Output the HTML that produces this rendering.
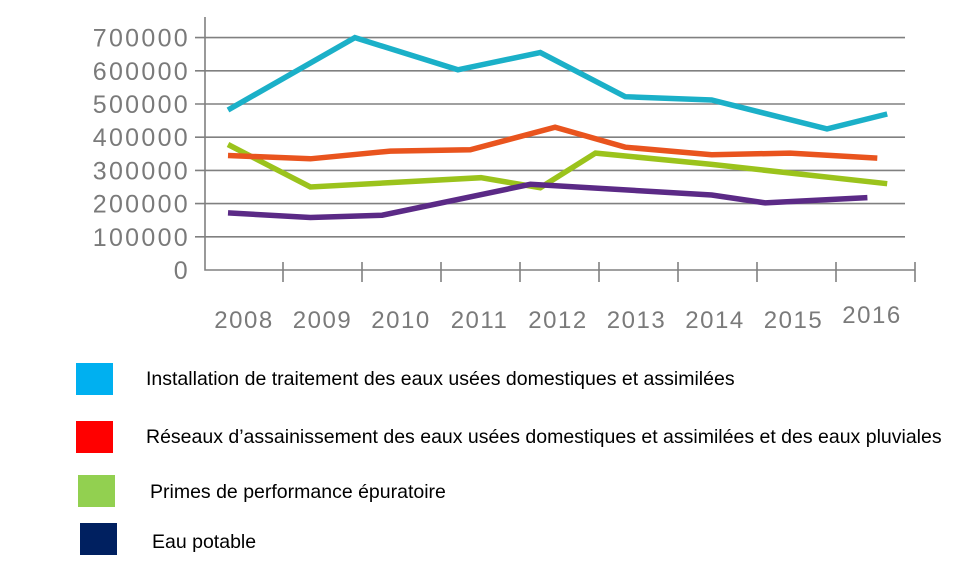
<!DOCTYPE html>
<html><head><meta charset="utf-8"><style>
body{margin:0;background:#fff;width:969px;height:576px;overflow:hidden;font-family:"Liberation Sans",sans-serif}
</style></head><body>
<svg id="chart" width="969" height="576" style="position:absolute;left:0;top:0"></svg>
<script>
const yTicks=[0,100000,200000,300000,400000,500000,600000,700000];
const tickLabels=["0","100000","200000","300000","400000","500000","600000","700000"];
const years=["2008","2009","2010","2011","2012","2013","2014","2015","2016"];
const cyanX=[2008,2009.54,2010.79,2011.79,2012.82,2013.87,2015.27,2016];
const cyanV=[482000,700000,603000,655000,522000,512000,425000,470000];
const orangeX=[2008,2009,2009.97,2010.94,2011.97,2012.82,2013.87,2014.82,2015.88];
const orangeV=[345000,335000,358000,362000,430000,370000,347000,352000,337000];
const greenX=[2008,2009,2011.07,2011.79,2012.46,2013.87,2016];
const greenV=[378000,250000,278000,248000,352000,318000,260000];
const purpleX=[2008,2009,2009.87,2011.67,2013.87,2014.52,2015.76];
const purpleV=[172000,158000,165000,258000,226000,202000,218000];
const NS="http://www.w3.org/2000/svg";
const svg=document.getElementById('chart');
const X=y=>228+(y-2008)*82.4;
const Y=v=>270-v/100000*33.2;
function mk(t,a){const e=document.createElementNS(NS,t);for(const k in a)e.setAttribute(k,a[k]);svg.appendChild(e);return e;}
yTicks.forEach((v,i)=>{
 if(v>0){const g=mk('line',{x1:195,x2:905,y1:Y(v),y2:Y(v),stroke:'#808080','stroke-width':1.6});
 
 }
 const t=mk('text',{x:190,y:Y(v)+9,'text-anchor':'end','font-size':25,'letter-spacing':2.3,fill:'#7a7a7a','font-family':'"Liberation Sans Narrow","Liberation Sans",sans-serif'});
 t.textContent=tickLabels[i];
 
 
});
const ax=mk('path',{d:'M205 17V270H915',fill:'none',stroke:'#808080','stroke-width':1.6});


years.forEach((yr,i)=>{
 const tx=X(2008)+55+i*79;
 const tk=mk('line',{x1:tx,x2:tx,y1:262,y2:282,stroke:'#808080','stroke-width':1.6});
 
 
 const t=mk('text',{x:244+i*78.5,y:i==8?323:328,'text-anchor':'middle','font-size':24,'letter-spacing':1.5,fill:'#7a7a7a','font-family':'"Liberation Sans Narrow","Liberation Sans",sans-serif'});
 t.textContent=yr;
 
 
});
function series(xs,vs,c,name){
 const d=xs.map((x,i)=>(i?'L':'M')+X(x).toFixed(1)+' '+Y(vs[i]).toFixed(1)).join('');
 const p=mk('path',{d:d,fill:'none',stroke:c,'stroke-width':5.5,'stroke-linejoin':'miter'});
 
 
}
series(greenX,greenV,'#9BC31C','series-primes');
series(purpleX,purpleV,'#5B2A86','series-eau-potable');
series(orangeX,orangeV,'#E9541E','series-reseaux');
series(cyanX,cyanV,'#1BB0C8','series-installation');
const leg=[[76,363,'#00B0F0','Installation de traitement des eaux usées domestiques et assimilées',146,385],
[76,421,'#FF0000','Réseaux d’assainissement des eaux usées domestiques et assimilées et des eaux pluviales',146,443],
[78,475,'#92D050','Primes de performance épuratoire',150,498],
[80,523,'#002060','Eau potable',152,548]];
leg.forEach(l=>{
 const r=mk('rect',{x:l[0],y:l[1],width:37,height:32,fill:l[2]});
 
 
 const t=mk('text',{x:l[4],y:l[5],'font-size':19.5,fill:'#000','font-family':'"Liberation Sans",sans-serif'});
 t.textContent=l[3];
 
 
});
</script>
</body></html>
